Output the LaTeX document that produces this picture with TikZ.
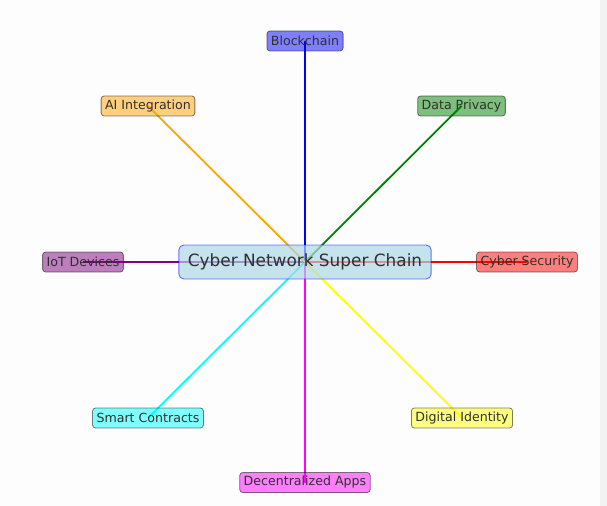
\documentclass[tikz,border=0pt]{standalone}
\usepackage{fontspec}
\setmainfont{DejaVu Sans}
\usetikzlibrary{backgrounds}
\pgfdeclarelayer{lines}
\pgfsetlayers{background,lines,main}
\definecolor{txt}{HTML}{303030}
\definecolor{bgmain}{HTML}{FDFDFD}
\definecolor{bgbar}{HTML}{F2F2F2}
\definecolor{lblue}{HTML}{ADD8E6}
\definecolor{dgreen}{HTML}{008000}
\definecolor{orng}{HTML}{FFA500}
\definecolor{purp}{HTML}{800080}
\definecolor{cyn}{HTML}{00FFFF}
\definecolor{magn}{HTML}{FF00FF}
\definecolor{yell}{HTML}{FFFF00}
\tikzset{
  sat/.style={draw=black, draw opacity=0.5, fill=#1, fill opacity=0.5, text opacity=1,
    text=txt, rounded corners=3bp, line width=0.8bp, inner xsep=4bp, inner ysep=0pt,
    minimum height=20bp, font=\fontsize{12.6bp}{14bp}\selectfont},
  hub/.style={draw=blue, draw opacity=0.55, fill=lblue, fill opacity=0.7, text opacity=1,
    text=txt, rounded corners=5bp, line width=0.9bp, inner xsep=9bp, inner ysep=0pt,
    minimum height=34bp, font=\fontsize{16.9bp}{19bp}\selectfont},
  link/.style={draw=#1, line width=1.8bp}
}
\begin{document}
\begin{tikzpicture}[x=1bp, y=-1bp]
\useasboundingbox (0,0) rectangle (607,506);
\begin{pgfonlayer}{background}
  \fill[bgmain] (0,0) rectangle (607,506);
  \fill[bgbar] (600,0) rectangle (607,506);
\end{pgfonlayer}
\node[hub] (hub) at (305,262) {Cyber Network Super Chain};
\node[sat=blue] (bc) at (305,41) {Blockchain};
\node[sat=dgreen] (dp) at (461.5,106) {Data Privacy};
\node[sat=red] (cs) at (527,262) {Cyber Security};
\node[sat=yell] (di) at (462,418) {Digital Identity};
\node[sat=magn] (da) at (305,482.5) {Decentralized Apps};
\node[sat=cyn] (sc) at (148,418) {Smart Contracts};
\node[sat=purp] (iot) at (83,262) {IoT Devices};
\node[sat=orng] (ai) at (148,106) {AI Integration};
\begin{pgfonlayer}{lines}
  \draw[link=blue] (hub.center) -- (bc.center);
  \draw[link=dgreen] (hub.center) -- (dp.center);
  \draw[link=red] (hub.center) -- (cs.center);
  \draw[link=yell] (hub.center) -- (di.center);
  \draw[link=magn] (hub.center) -- (da.center);
  \draw[link=cyn] (hub.center) -- (sc.center);
  \draw[link=purp] (hub.center) -- (iot.center);
  \draw[link=orng] (hub.center) -- (ai.center);
\end{pgfonlayer}
\end{tikzpicture}
\end{document}
